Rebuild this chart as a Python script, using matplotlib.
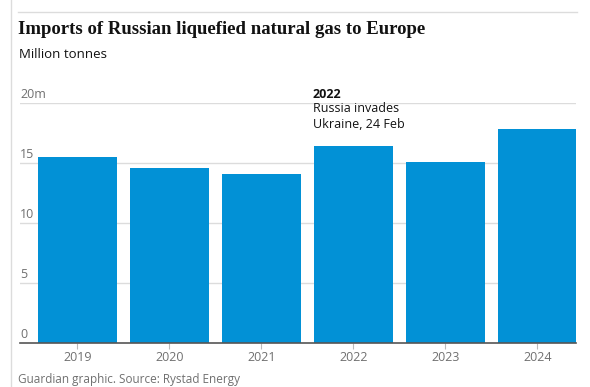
import matplotlib
matplotlib.use("Agg")
import matplotlib.pyplot as plt
from matplotlib.lines import Line2D
import matplotlib.transforms as mtransforms

years = ["2019", "2020", "2021", "2022", "2023", "2024"]
imports = [15.5, 14.55, 14.05, 16.4, 15.05, 17.8]
yticks = [0, 5, 10, 15, 20]
ytick_labels = ["0", "5", "10", "15", "20m"]

W, H = 590, 387
fig = plt.figure(figsize=(W / 100, H / 100), dpi=100)
fig.patch.set_facecolor("white")

sans = ["Open Sans", "DejaVu Sans"]
bar_color = "#0291d6"
grid_color = "#dcdcdc"
label_gray = "#707070"
dark = "#121212"

def fx(px):
    return px / W

def fy(py):
    return 1 - py / H

ax = fig.add_axes([fx(20), fy(342.7), fx(576) - fx(20), fy(102.5) - fy(342.7)])
x = list(range(len(years)))
ax.bar(x, imports, width=0.86, color=bar_color, zorder=3)
ax.set_xlim(-0.625, 5.42)
ax.set_ylim(0, 20)
for s in ["top", "right", "left"]:
    ax.spines[s].set_visible(False)
ax.spines["bottom"].set_color("#555555")
ax.spines["bottom"].set_linewidth(1.2)
ax.spines["bottom"].set_zorder(4)
ax.set_yticks([])
ax.set_xticks(x)
ax.set_xticklabels(years, fontfamily=sans, fontsize=9, color=label_gray)
ax.tick_params(axis="x", length=4, color="#bbbbbb", pad=2)

trans = mtransforms.blended_transform_factory(ax.transAxes, ax.transData)
for v, lab in zip(yticks, ytick_labels):
    if v > 0:
        ax.axhline(v, color=grid_color, lw=1, zorder=1)
    ax.text(0.0, v + 0.12, lab, transform=trans, ha="left", va="bottom",
            fontfamily=sans, fontsize=9, color=label_gray, zorder=5)

# frame lines
fig.add_artist(Line2D([fx(10.5), fx(10.5)], [0, 1], color=grid_color, lw=1))
fig.add_artist(Line2D([fx(18), fx(577)], [fy(12), fy(12)], color=grid_color, lw=1))

fig.text(fx(18), fy(30), "Imports of Russian liquefied natural gas to Europe",
         fontfamily=["Liberation Serif", "DejaVu Serif"], fontweight="bold",
         fontsize=13.5, color=dark, ha="left", va="center")
fig.text(fx(19), fy(55), "Million tonnes", fontfamily=sans, fontsize=9.5,
         color=dark, ha="left", va="center")

fig.text(fx(313), fy(94), "2022", fontfamily=sans, fontweight="bold",
         fontsize=9, color=dark, ha="left", va="center")
fig.text(fx(313), fy(108.5), "Russia invades", fontfamily=sans,
         fontsize=9, color=dark, ha="left", va="center")
fig.text(fx(313), fy(124.5), "Ukraine, 24 Feb", fontfamily=sans,
         fontsize=9, color=dark, ha="left", va="center")

fig.text(fx(18), fy(385.5), "Guardian graphic. Source: Rystad Energy",
         fontfamily=sans, fontsize=8.5, color=label_gray, ha="left", va="bottom")

fig.savefig("out.png", dpi=100, facecolor="white")
